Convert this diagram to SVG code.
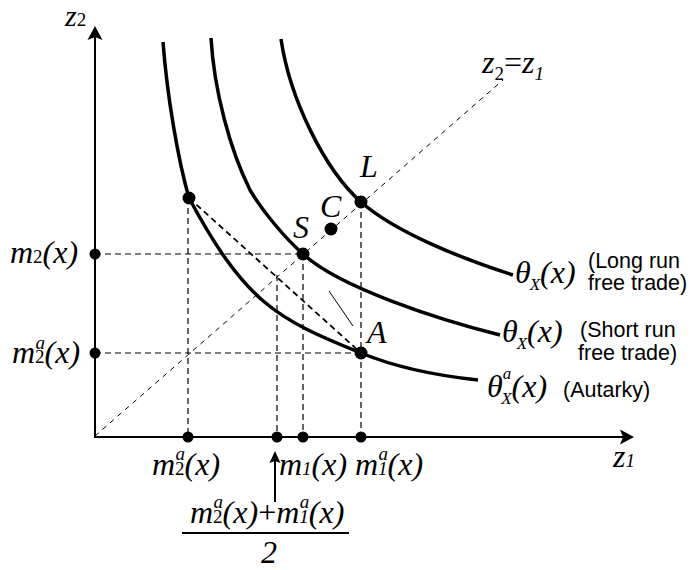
<svg xmlns="http://www.w3.org/2000/svg" width="691" height="570" viewBox="0 0 691 570">
<style>
.axis{stroke:#000;stroke-width:2;fill:none}
.curve{stroke:#000;stroke-width:3.5;fill:none;stroke-linecap:butt}
.dash{stroke:#000;stroke-width:1.2;stroke-dasharray:6 4;fill:none}
.diag{stroke:#000;stroke-width:1;stroke-dasharray:5 5;fill:none}
.chord{stroke:#000;stroke-width:1.8;stroke-dasharray:6 4;fill:none}
.thin{stroke:#000;stroke-width:1;fill:none}
.m{font-family:"Liberation Serif","Times New Roman",serif;font-style:italic;font-size:32px;fill:#000}
.s{font-size:19px}
.t{font-size:17px}
.up{font-style:normal}
.sans{font-family:"Liberation Sans",Arial,sans-serif;font-size:21.5px;fill:#000}
.dot{fill:#000}
</style>
<defs>
<marker id="ah" viewBox="0 0 16 16" refX="7" refY="8" markerWidth="16" markerHeight="16" markerUnits="userSpaceOnUse" orient="auto">
<path d="M15,8 L1,0.5 L4,8 L1,15.5 Z" fill="#000"/>
</marker>
<marker id="ahs" viewBox="0 0 14 14" refX="7" refY="7" markerWidth="14" markerHeight="14" markerUnits="userSpaceOnUse" orient="auto">
<path d="M13,7 L1,1.5 L3,7 L1,12.5 Z" fill="#000"/>
</marker>
</defs>
<rect width="691" height="570" fill="#fff"/>

<g id="connectors">
<line class="axis" x1="95" y1="437" x2="95" y2="34" marker-end="url(#ah)"/>
<line class="axis" x1="94" y1="437" x2="626" y2="437" marker-end="url(#ah)"/>
<line class="diag" x1="95" y1="436" x2="503" y2="80"/>
<line class="dash" x1="95" y1="254" x2="303" y2="254"/>
<line class="dash" x1="95" y1="353" x2="361" y2="353"/>
<line class="dash" x1="188" y1="198" x2="188" y2="437"/>
<line class="dash" x1="303" y1="254" x2="303" y2="437"/>
<line class="dash" x1="361" y1="202" x2="361" y2="437"/>
<line class="dash" x1="277" y1="275" x2="277" y2="437"/>
<line class="chord" x1="189" y1="198" x2="361" y2="353"/>
<line class="thin" x1="329" y1="291" x2="353" y2="326"/>
<line class="axis" x1="275" y1="502" x2="275" y2="457" marker-end="url(#ahs)"/>
<line class="axis" x1="182" y1="533" x2="349" y2="533"/>
</g>

<g id="curve-autarky">
<path class="curve" d="M163,42 C167,95 178,160 189,198 C245,302 276,319 361,353 C400,369 440,376 478,380"/>
</g>
<g id="curve-shortrun">
<path class="curve" d="M211,38 C214,90 230,150 250,190 C263,212 285,238 303,254 C340,288 440,320 500,335"/>
</g>
<g id="curve-longrun">
<path class="curve" d="M281,39 C290,100 325,170 361,202 C395,232 460,258 513,275"/>
</g>

<g id="points">
<circle class="dot" cx="189" cy="198" r="6.5"/>
<circle class="dot" cx="303" cy="254" r="6.5"/>
<circle class="dot" cx="331" cy="229" r="6.5"/>
<circle class="dot" cx="361" cy="202" r="6.5"/>
<circle class="dot" cx="361" cy="353" r="6.5"/>
<circle class="dot" cx="95" cy="254" r="5.5"/>
<circle class="dot" cx="95" cy="353" r="5.5"/>
<circle class="dot" cx="188" cy="437" r="5.5"/>
<circle class="dot" cx="277" cy="437" r="5.5"/>
<circle class="dot" cx="303" cy="437" r="5.5"/>
<circle class="dot" cx="361" cy="437" r="5.5"/>
</g>

<g id="labels">
<text class="m" x="65" y="26" style="font-size:30px">z<tspan class="s up">2</tspan></text>
<text class="m" x="482" y="73">z<tspan class="s up" dy="7">2</tspan><tspan class="up" dy="-7">=</tspan>z<tspan class="s" dy="7">1</tspan></text>
<text class="m" x="613" y="467">z<tspan class="s">1</tspan></text>
<text class="m" x="360" y="177">L</text>
<text class="m" x="320" y="217">C</text>
<text class="m" x="293" y="238">S</text>
<text class="m" x="367" y="343">A</text>

<text class="m" x="10" y="263">m<tspan class="s up">2</tspan>(x)</text>
<text class="m" x="12" y="363">m<tspan class="s up">2</tspan><tspan class="s" dx="-9" dy="-14">a</tspan><tspan dx="-0.5" dy="14">(x)</tspan></text>

<text class="m" x="152" y="475">m<tspan class="s up">2</tspan><tspan class="s" dx="-9" dy="-15">a</tspan><tspan dx="-0.5" dy="15">(x)</tspan></text>
<text class="m" x="279" y="475">m<tspan class="s">1</tspan>(x)</text>
<text class="m" x="355" y="475">m<tspan class="s">1</tspan><tspan class="s" dx="-9" dy="-15">a</tspan><tspan dx="-0.5" dy="15">(x)</tspan></text>

<text class="m" x="190" y="523">m<tspan class="s up">2</tspan><tspan class="s" dx="-9" dy="-15">a</tspan><tspan dx="-0.5" dy="15">(x)</tspan><tspan class="up">+</tspan>m<tspan class="s">1</tspan><tspan class="s" dx="-9" dy="-15">a</tspan><tspan dx="-0.5" dy="15">(x)</tspan></text>
<text class="m" x="261" y="563">2</text>

<text class="m" x="515" y="283">θ<tspan class="t" dx="-1" dy="7">X</tspan><tspan dx="0" dy="-7">(x)</tspan></text>
<text class="sans" x="588" y="268">(Long run</text>
<text class="sans" x="588" y="290">free trade)</text>

<text class="m" x="502" y="342">θ<tspan class="t" dx="-1" dy="7">X</tspan><tspan dx="0" dy="-7">(x)</tspan></text>
<text class="sans" x="580" y="337">(Short run</text>
<text class="sans" x="578" y="360">free trade)</text>

<text class="m" x="487" y="397">θ<tspan class="t" dy="-18">a</tspan><tspan class="t" dx="-10" dy="25">X</tspan><tspan dx="0" dy="-7">(x)</tspan></text>
<text class="sans" x="563" y="397">(Autarky)</text>
</g>
</svg>
